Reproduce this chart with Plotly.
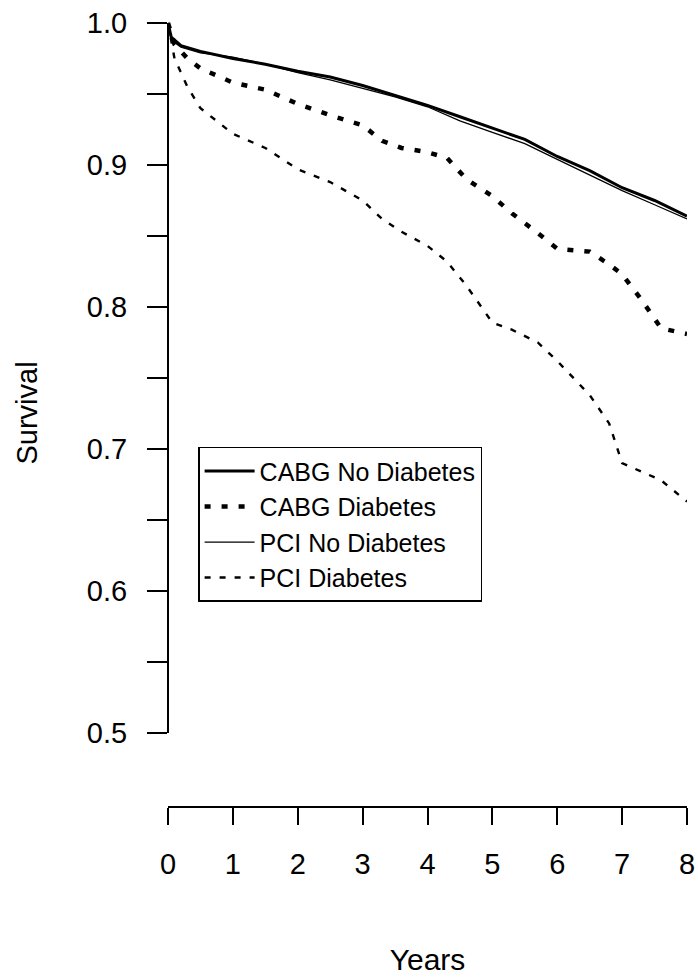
import plotly.graph_objects as go

# ---- data ----
years = [0, 0.05, 0.2, 0.5, 1, 1.5, 2, 2.5, 3, 3.5, 4, 4.5, 5, 5.5, 6, 6.5, 7, 7.5, 8]

cabg_no_diab = [1.0, 0.990, 0.984, 0.980, 0.975, 0.971, 0.966, 0.962, 0.956, 0.949,
                0.942, 0.934, 0.926, 0.918, 0.906, 0.896, 0.884, 0.875, 0.864]
pci_no_diab = [1.0, 0.988, 0.983, 0.979, 0.976, 0.971, 0.965, 0.960, 0.954, 0.948,
               0.941, 0.931, 0.923, 0.915, 0.904, 0.893, 0.882, 0.872, 0.862]

diab_years = [0, 0.1, 0.3, 0.5, 1, 1.5, 2, 2.5, 3, 3.3, 3.6, 4, 4.3, 4.6, 5, 5.3, 5.7,
              6, 6.5, 6.8, 7, 7.3, 7.6, 8]
cabg_diab = [1.0, 0.985, 0.975, 0.968, 0.958, 0.953, 0.943, 0.935, 0.928, 0.917, 0.912,
             0.909, 0.905, 0.890, 0.878, 0.866, 0.852, 0.841, 0.839, 0.830, 0.823,
             0.805, 0.785, 0.781]
pci_diab = [1.0, 0.975, 0.955, 0.940, 0.922, 0.912, 0.897, 0.888, 0.875, 0.862, 0.853,
            0.843, 0.832, 0.815, 0.789, 0.784, 0.775, 0.762, 0.738, 0.718, 0.690,
            0.684, 0.678, 0.663]

y_tickvals = [0.5, 0.55, 0.6, 0.65, 0.7, 0.75, 0.8, 0.85, 0.9, 0.95, 1.0]
y_ticktext = ["0.5", "", "0.6", "", "0.7", "", "0.8", "", "0.9", "", "1.0"]
x_tickvals = [0, 1, 2, 3, 4, 5, 6, 7, 8]

# ---- layout constants ----
Y_MIN, Y_MAX = 0.4486, 1.0021
FONT = "Liberation Sans, Arial, sans-serif"

fig = go.Figure()
fig.add_trace(go.Scatter(x=years, y=cabg_no_diab, mode="lines", name="CABG No Diabetes",
                         line=dict(color="black", width=3)))
fig.add_trace(go.Scatter(x=diab_years, y=cabg_diab, mode="lines", name="CABG Diabetes",
                         line=dict(color="black", width=4.5, dash="6px,11px")))
fig.add_trace(go.Scatter(x=years, y=pci_no_diab, mode="lines", name="PCI No Diabetes",
                         line=dict(color="black", width=1.3)))
fig.add_trace(go.Scatter(x=diab_years, y=pci_diab, mode="lines", name="PCI Diabetes",
                         line=dict(color="black", width=2.4, dash="6px,9px")))

# R-style y axis line spanning only the tick range
y0p = (y_tickvals[0] - Y_MIN) / (Y_MAX - Y_MIN)
y1p = (y_tickvals[-1] - Y_MIN) / (Y_MAX - Y_MIN)
fig.add_shape(type="line", xref="paper", yref="paper", x0=0, x1=0, y0=y0p, y1=y1p,
              line=dict(color="black", width=2))

fig.update_layout(
    template="none",
    width=698, height=978,
    margin=dict(l=168, r=11, t=20, b=172, autoexpand=False),
    paper_bgcolor="white", plot_bgcolor="white",
    font=dict(family=FONT, color="black", size=29),
    showlegend=True,
    legend=dict(x=0.058, y=0.457, xanchor="left", yanchor="top",
                bordercolor="black", borderwidth=1.5, bgcolor="white",
                itemwidth=50,
                font=dict(size=25, family=FONT)),
    xaxis=dict(range=[0, 8], tickvals=x_tickvals, showgrid=False, zeroline=False,
               automargin=False, ticklabeloverflow="allow",
               showline=True, linecolor="black", linewidth=2,
               ticks="outside", ticklen=17, tickwidth=2, tickcolor="black",
               ticklabelstandoff=14, tickfont=dict(size=29),
               title=dict(text="Years", font=dict(size=30), standoff=70)),
    yaxis=dict(range=[Y_MIN, Y_MAX], tickvals=y_tickvals, ticktext=y_ticktext,
               automargin=False, ticklabeloverflow="allow",
               showgrid=False, zeroline=False, showline=False,
               ticks="outside", ticklen=20, tickwidth=2, tickcolor="black",
               ticklabelstandoff=14, tickfont=dict(size=29),
               title=dict(text="Survival", font=dict(size=29), standoff=40)),
)

# remove the page's default 8px body margin so the figure fills the window exactly
fig.write_html("out.html", config={"displayModeBar": False},
               post_script="document.body.style.margin='0';document.body.style.overflow='hidden';")
